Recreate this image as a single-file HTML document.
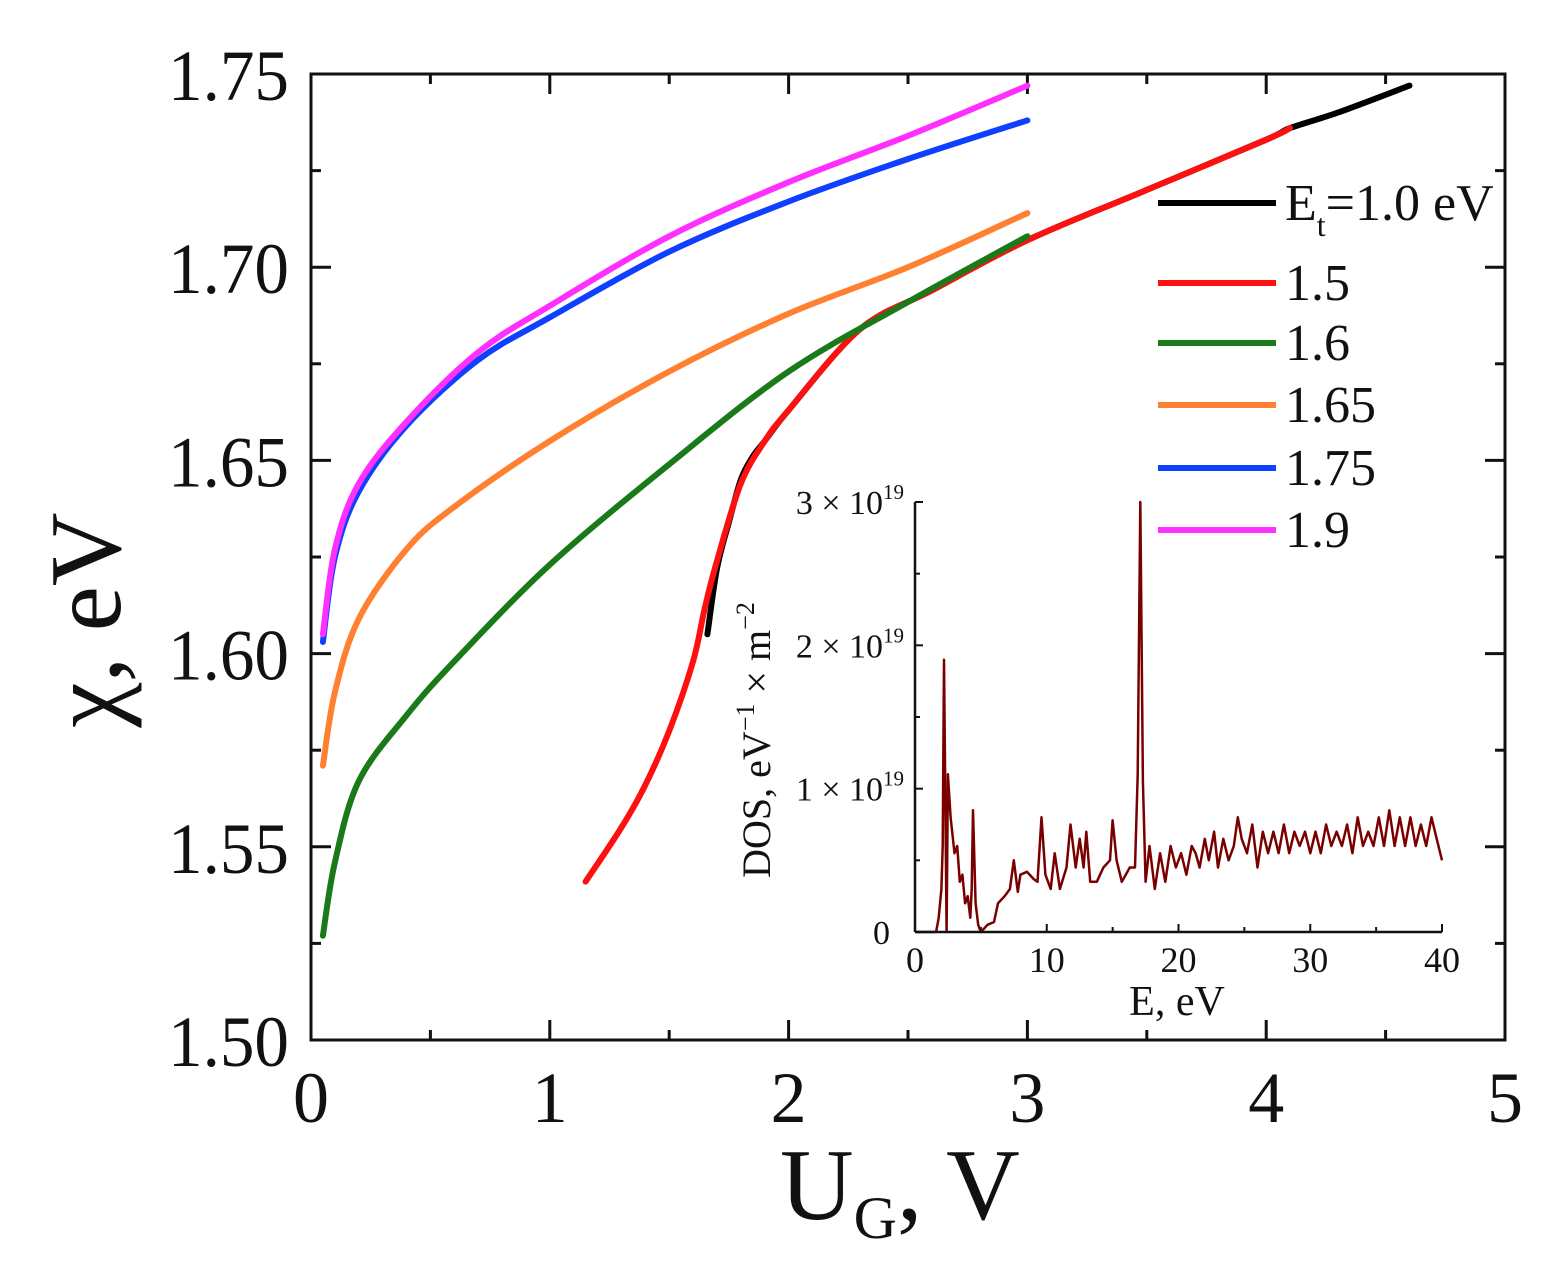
<!DOCTYPE html>
<html><head><meta charset="utf-8"><style>
html,body{margin:0;padding:0;background:#fff}
svg{display:block}
text{font-family:"Liberation Serif",serif;fill:#111}
</style></head><body>
<svg id="chart" width="1546" height="1267" viewBox="0 0 1546 1267" xmlns="http://www.w3.org/2000/svg"></svg>
<script>
// ---- main chart data ----
const seriesNames = ["1.0","1.5","1.6","1.65","1.75","1.9"];
const seriesColors = ["#000000","#ff1010","#1a7a1a","#ff8030","#1040ff","#ff30ff"];
const blackX = [1.66,1.70,1.75,1.80,1.85,1.9,2.0,2.3,2.6,3.0,3.5,4.0,4.1,4.3,4.6];
const blackY = [1.605,1.622,1.634,1.645,1.651,1.655,1.663,1.684,1.694,1.707,1.720,1.733,1.736,1.740,1.747];
const redX = [1.15,1.3,1.4,1.5,1.6,1.65,1.7,1.8,1.9,2.0,2.3,2.6,3.0,3.5,4.0,4.1];
const redY = [1.541,1.555,1.566,1.580,1.598,1.612,1.624,1.644,1.655,1.663,1.684,1.694,1.707,1.720,1.733,1.736];
const greenX = [0.05,0.1,0.2,0.4,0.6,1.0,1.5,2.0,2.5,3.0];
const greenY = [1.527,1.546,1.567,1.584,1.598,1.623,1.649,1.673,1.691,1.708];
const orangeX = [0.05,0.1,0.2,0.4,0.6,1.0,1.5,2.0,2.5,3.0];
const orangeY = [1.571,1.590,1.609,1.627,1.638,1.655,1.673,1.688,1.700,1.714];
const blueX = [0.05,0.1,0.2,0.4,0.7,1.0,1.5,2.0,2.5,3.0];
const blueY = [1.603,1.625,1.642,1.659,1.676,1.687,1.704,1.717,1.728,1.738];
const magentaX = [0.05,0.1,0.2,0.4,0.7,1.0,1.5,2.0,2.5,3.0];
const magentaY = [1.605,1.627,1.644,1.660,1.678,1.690,1.708,1.722,1.734,1.747];
const xTicks = ["0","1","2","3","4","5"];
const yTicks = ["1.50","1.55","1.60","1.65","1.70","1.75"];
// ---- inset DOS data (units of 1e19) ----
const dosE = [0,1.6,1.8,2.0,2.1,2.2,2.4,2.5,2.7,3.0,3.2,3.4,3.6,3.8,4.0,4.2,4.3,4.4,4.6,4.8,5.0,5.5,6.0,6.3,6.8,7.2,7.5,7.8,8.0,8.5,9.0,9.3,9.6,9.9,10.3,10.6,11.0,11.5,11.8,12.2,12.5,12.8,13.0,13.3,13.8,14.3,14.8,15.0,15.3,15.7,16.3,16.7,16.9,17.1,17.3,17.5,17.8,18.2,18.6,19.0,19.4,19.8,20.2,20.6,21.0,21.3,21.6,22.0,22.3,22.7,23.0,23.4,23.8,24.2,24.5,24.8,25.2,25.6,26.0,26.4,26.8,27.2,27.6,28.0,28.4,28.8,29.2,29.6,30.0,30.4,30.8,31.2,31.6,32.0,32.4,32.8,33.2,33.6,34.0,34.4,34.8,35.2,35.6,36.0,36.4,36.8,37.2,37.6,38.0,38.4,38.8,39.2,39.6,40];
const dosV = [0,0,0.1,0.3,0.6,1.9,0,1.1,0.8,0.55,0.6,0.35,0.4,0.2,0.25,0.1,0.3,0.85,0.2,0.05,0,0.05,0.07,0.2,0.25,0.3,0.5,0.28,0.4,0.42,0.37,0.35,0.8,0.4,0.3,0.55,0.3,0.45,0.75,0.45,0.65,0.45,0.7,0.35,0.35,0.45,0.5,0.78,0.5,0.35,0.45,0.45,1.1,3.0,1.05,0.35,0.6,0.3,0.55,0.35,0.6,0.45,0.55,0.4,0.6,0.55,0.45,0.65,0.5,0.7,0.45,0.65,0.5,0.6,0.8,0.65,0.55,0.75,0.45,0.7,0.55,0.7,0.55,0.75,0.55,0.7,0.6,0.7,0.55,0.7,0.55,0.75,0.6,0.7,0.6,0.75,0.55,0.8,0.6,0.7,0.6,0.8,0.6,0.85,0.6,0.8,0.6,0.8,0.6,0.75,0.6,0.8,0.65,0.5];
const dosXTicks = ["0","10","20","30","40"];
const dosYTicks = ["0","1","2","3"];

const NS="http://www.w3.org/2000/svg";
const svg=document.getElementById('chart');
function el(tag,attrs,parent){const e=document.createElementNS(NS,tag);for(const k in attrs)e.setAttribute(k,attrs[k]);(parent||svg).appendChild(e);return e;}
const L=311,R=1505,T=74,B=1040;
const sx=v=>L+(v-0)/5*(R-L);
const sy=v=>B-(v-1.5)/0.25*(B-T);
const iL=915,iR=1442,iT=502,iB=932;
const ix=v=>iL+v/40*(iR-iL);
const iy=v=>iB-v/3*(iB-iT);

const tg=el('g',{});


for(let i=0;i<=10;i++){const x=sx(i*0.5);const len=i%2==0?20:10;
 el('line',{x1:x,y1:B,x2:x,y2:B-len,stroke:'#111','stroke-width':3},tg);
 el('line',{x1:x,y1:T,x2:x,y2:T+len,stroke:'#111','stroke-width':3},tg);}
for(let i=0;i<=10;i++){const y=sy(1.5+i*0.025);const len=i%2==0?20:10;
 el('line',{x1:L,y1:y,x2:L+len,y2:y,stroke:'#111','stroke-width':3},tg);
 el('line',{x1:R,y1:y,x2:R-len,y2:y,stroke:'#111','stroke-width':3},tg);}
xTicks.forEach(t=>{const e=el('text',{x:sx(+t),y:1122,'font-size':72,'text-anchor':'middle'});e.textContent=t;
 
 });
yTicks.forEach(t=>{const e=el('text',{x:289,y:sy(+t)+26,'font-size':72,'text-anchor':'end',textLength:121,lengthAdjust:'spacingAndGlyphs'});e.textContent=t;
 
 });

function smoothPath(pts){
 let d='M'+pts[0][0].toFixed(1)+','+pts[0][1].toFixed(1);
 for(let i=0;i<pts.length-1;i++){
  const p0=pts[i-1]||pts[i],p1=pts[i],p2=pts[i+1],p3=pts[i+2]||p2;
  const c1=[p1[0]+(p2[0]-p0[0])/6,p1[1]+(p2[1]-p0[1])/6];
  const c2=[p2[0]-(p3[0]-p1[0])/6,p2[1]-(p3[1]-p1[1])/6];
  d+=' C'+c1[0].toFixed(1)+','+c1[1].toFixed(1)+' '+c2[0].toFixed(1)+','+c2[1].toFixed(1)+' '+p2[0].toFixed(1)+','+p2[1].toFixed(1);
 }
 return d;}
function line(xs,ys,color,name){
 const pts=xs.map((x,i)=>[sx(x),sy(ys[i])]);
 const p=el('path',{d:smoothPath(pts),fill:'none',stroke:color,'stroke-width':6,'stroke-linejoin':'round','stroke-linecap':'round'});
 
 }
line(blackX,blackY,seriesColors[0],'series-et-1.0');
line(redX,redY,seriesColors[1],'series-et-1.5');
line(greenX,greenY,seriesColors[2],'series-et-1.6');
line(orangeX,orangeY,seriesColors[3],'series-et-1.65');
line(blueX,blueY,seriesColors[4],'series-et-1.75');
line(magentaX,magentaY,seriesColors[5],'series-et-1.9');

const fr=el('rect',{x:L,y:T,width:R-L,height:B-T,fill:'none',stroke:'#111','stroke-width':3});



const yt=el('text',{x:0,y:0,'font-size':102,'text-anchor':'middle',transform:'translate(120,620) rotate(-90)'});
yt.textContent='χ, eV';


const xt=el('text',{x:780,y:1219,'font-size':102});
xt.innerHTML='U<tspan font-size="60" dy="19">G</tspan><tspan dy="-19">, V</tspan>';



const legY=[203,283,343,405,468,530];
seriesNames.forEach((n,i)=>{
 const g=el('g',{});
 
 
 el('line',{x1:1158,y1:legY[i],x2:1276,y2:legY[i],stroke:seriesColors[i],'stroke-width':6},g);
 const t=el('text',{x:1285,y:legY[i]+17,'font-size':52},g);
 if(i==0) t.innerHTML='E<tspan font-size="32" dy="16">t</tspan><tspan dy="-16">=1.0 eV</tspan>';
 else t.textContent=n;
});

const ig=el('g',{});


for(let i=0;i<=8;i++){const x=ix(i*5);const len=i%2==0?8:5;
 el('line',{x1:x,y1:iB,x2:x,y2:iB-len,stroke:'#111','stroke-width':2},ig);}
for(let i=0;i<=6;i++){const y=iy(i*0.5);const len=i%2==0?8:5;
 el('line',{x1:iL,y1:y,x2:iL+len,y2:y,stroke:'#111','stroke-width':2},ig);}
const dd=dosE.map((e,i)=>(i?'L':'M')+ix(e).toFixed(1)+','+iy(dosV[i]).toFixed(1)).join(' ');
const dp=el('path',{d:dd,fill:'none',stroke:'#7a0000','stroke-width':2.5,'stroke-linejoin':'round'},ig);


el('line',{x1:iL,y1:iT,x2:iL,y2:iB,stroke:'#111','stroke-width':2.5},ig);
el('line',{x1:iL,y1:iB,x2:iR,y2:iB,stroke:'#111','stroke-width':2.5},ig);
dosXTicks.forEach(t=>{const e=el('text',{x:ix(+t),y:972,'font-size':36,'text-anchor':'middle'},ig);e.textContent=t;
 
 });
dosYTicks.forEach(t=>{const y=iy(+t)+12;
 const e=el('text',{x:t=='0'?890:904,y:y,'font-size':34,'text-anchor':'end'},ig);
 if(t=='0') e.textContent='0'; else e.innerHTML=t+' × 10<tspan font-size="21" dy="-15">19</tspan>';
 
 });
const ixt=el('text',{x:1177,y:1015,'font-size':42,'text-anchor':'middle'},ig);
ixt.textContent='E, eV';


const iyt=el('text',{x:0,y:0,'font-size':40,'text-anchor':'middle',transform:'translate(770,740) rotate(-90)'},ig);
iyt.innerHTML='DOS, eV<tspan font-size="26" dy="-16">−1</tspan><tspan dy="16"> × m</tspan><tspan font-size="26" dy="-16">−2</tspan>';


</script>
</body></html>
